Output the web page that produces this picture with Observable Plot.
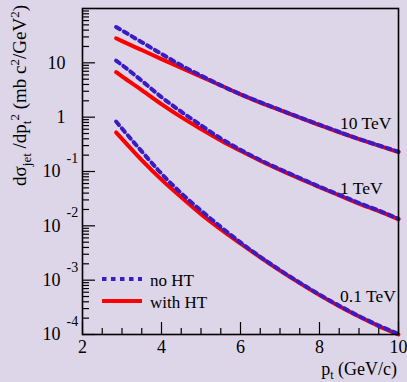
<!DOCTYPE html>
<html><head><meta charset="utf-8">
<script src="https://cdn.jsdelivr.net/npm/d3@7"></script>
<script src="https://cdn.jsdelivr.net/npm/@observablehq/plot@0.6"></script>
<style>
html,body{margin:0;padding:0;background:#ddd5e8;}
svg{display:block}
svg text, svg tspan { font-family: "Liberation Serif", "Times New Roman", Times, "DejaVu Serif", serif !important; }
</style>
</head><body><div id="chart"></div>
<script>
// p_t values (GeV/c)
const pt = [2.85, 3, 3.5, 4, 4.5, 5, 5.5, 6, 6.5, 7, 7.5, 8, 8.5, 9, 9.5, 10];
// d sigma_jet / dp_t^2 (mb c^2/GeV^2)
const noHT_10TeV   = [45.7, 39.4, 24.0, 14.6, 8.99, 5.82, 3.85, 2.64, 1.89, 1.36, 0.989, 0.727, 0.535, 0.397, 0.302, 0.231];
const withHT_10TeV = [28.3, 25.1, 17.2, 11.7, 8.09, 5.56, 3.83, 2.63, 1.86, 1.35, 0.977, 0.716, 0.527, 0.394, 0.299, 0.228];
const noHT_1TeV    = [11.0, 9.12, 4.68, 2.34, 1.26, 0.708, 0.407, 0.251, 0.162, 0.110, 0.0759, 0.0525, 0.0372, 0.0263, 0.0191, 0.0135];
const withHT_1TeV  = [6.76, 5.62, 3.16, 1.74, 1.00, 0.603, 0.372, 0.240, 0.158, 0.107, 0.0741, 0.0513, 0.0363, 0.0257, 0.0186, 0.0132];
const noHT_01TeV   = [0.832, 0.617, 0.234, 0.0912, 0.0398, 0.0191, 0.00955, 0.00495, 0.00269, 0.00153, 0.000899, 0.000542, 0.000339, 0.000218, 0.000146, 0.000102];
const withHT_01TeV = [0.525, 0.398, 0.162, 0.0708, 0.0335, 0.0164, 0.00861, 0.00473, 0.00263, 0.00150, 0.000881, 0.000531, 0.000331, 0.000214, 0.000143, 0.000100];

const energies = ["10 TeV", "1 TeV", "0.1 TeV"];
const energyLabelX = [8.52, 8.52, 8.52];
const energyLabelY = [0.78, 0.048, 0.0005];

const xMajorTicks = [2, 4, 6, 8, 10];
const xMinorTicks = [2.5, 3, 3.5, 4.5, 5, 5.5, 6.5, 7, 7.5, 8.5, 9, 9.5];
const yMajorTicks = [1e-4, 1e-3, 1e-2, 1e-1, 1, 10];
const yMinorMultipliers = [2, 3, 4, 5, 6, 7, 8, 9];
const yPowerLabels = [{v: 1e-4, exp: "-4"}, {v: 1e-3, exp: "-3"}, {v: 1e-2, exp: "-2"}, {v: 1e-1, exp: "-1"}];
const yPlainLabels = [{v: 1, t: "1"}, {v: 10, t: "10"}];

const legendNames = ["no HT", "with HT"];

const blue = "#3a1cc4", red = "#ff0000";

const rows = [];
const series = [
  [noHT_10TeV, withHT_10TeV], [noHT_1TeV, withHT_1TeV], [noHT_01TeV, withHT_01TeV]
];
series.forEach(([no, wi], k) => {
  pt.forEach((p, i) => {
    rows.push({pt: p, v: no[i], energy: energies[k], kind: "no HT"});
    rows.push({pt: p, v: wi[i], energy: energies[k], kind: "with HT"});
  });
});
const yMinorTicks = [];
for (const m of yMajorTicks) for (const k of yMinorMultipliers) yMinorTicks.push(m * k);
const energyLabels = energies.map((e, i) => ({x: energyLabelX[i], y: energyLabelY[i], t: e}));

const W = 407, H = 382, mL = 82, mR = 9, mT = 8, mB = 48;
const fw = W - mL - mR, fh = H - mT - mB;
const font = "'Liberation Serif', 'Times New Roman', Times, 'DejaVu Serif', serif";

const plot = Plot.plot({
  width: W, height: H,
  marginLeft: mL, marginRight: mR, marginTop: mT, marginBottom: mB,
  style: {background: "#ddd5e8", fontFamily: font, color: "black", overflow: "visible"},
  x: {domain: [2, 10], axis: null},
  y: {type: "log", domain: [1e-4, 100], axis: null},
  marks: [
    Plot.line(rows.filter(d => d.kind === "with HT"), {x: "pt", y: "v", z: "energy", stroke: red, strokeWidth: 4, curve: "monotone-x"}),
    Plot.line(rows.filter(d => d.kind === "no HT"), {x: "pt", y: "v", z: "energy", stroke: blue, strokeWidth: 4, strokeDasharray: "4.5,4.5", curve: "monotone-x"}),
    Plot.ruleX(xMajorTicks, {x: d => d, insetTop: fh - 12, stroke: "black", strokeWidth: 1.2}),
    Plot.ruleX(xMinorTicks, {x: d => d, insetTop: fh - 6, stroke: "black", strokeWidth: 1.2}),
    Plot.ruleY(yMajorTicks, {y: d => d, insetRight: fw - 13, stroke: "black", strokeWidth: 1.2}),
    Plot.ruleY(yMinorTicks, {y: d => d, insetRight: fw - 7, stroke: "black", strokeWidth: 1.2}),
    Plot.frame({stroke: "black", strokeWidth: 1.6}),
    Plot.text(xMajorTicks, {x: d => d, text: d => String(d), frameAnchor: "bottom", dy: 18, fontSize: 18, fontFamily: font, fill: "black"}),
    Plot.text(yPowerLabels, {y: "v", text: () => "10", frameAnchor: "left", dx: -22, textAnchor: "end", fontSize: 18, fontFamily: font, fill: "black"}),
    Plot.text(yPowerLabels, {y: "v", text: "exp", frameAnchor: "left", dx: -16, dy: -13, textAnchor: "start", fontSize: 14, fontFamily: font, fill: "black"}),
    Plot.text(yPlainLabels, {y: "v", text: "t", frameAnchor: "left", dx: -17, textAnchor: "end", fontSize: 18, fontFamily: font, fill: "black"}),
    Plot.text(energyLabels, {x: "x", y: "y", text: "t", textAnchor: "start", fontSize: 17.5, fontFamily: font, fill: "black"})
  ]
});

const svg = d3.select(plot);
// y title
const yt = svg.append("text")
  .attr("transform", "translate(26,5) rotate(-90)")
  .attr("text-anchor", "end").attr("font-family", font).attr("font-size", 19).attr("fill", "black");
yt.append("tspan").text("dσ");
yt.append("tspan").attr("font-size", 13).attr("dy", 5).text("jet");
yt.append("tspan").attr("dy", -5).text(" /dp");
yt.append("tspan").attr("font-size", 13).attr("dy", 5).text("t");
yt.append("tspan").attr("font-size", 13).attr("dy", -12).text("2");
yt.append("tspan").attr("dy", 7).text(" (mb c");
yt.append("tspan").attr("font-size", 13).attr("dy", -7).text("2");
yt.append("tspan").attr("dy", 7).text("/GeV");
yt.append("tspan").attr("font-size", 13).attr("dy", -7).text("2");
yt.append("tspan").attr("dy", 7).text(")");
// x title
const xt = svg.append("text")
  .attr("x", 397).attr("y", 375)
  .attr("text-anchor", "end").attr("font-family", font).attr("font-size", 18).attr("fill", "black");
xt.append("tspan").text("p");
xt.append("tspan").attr("font-size", 12).attr("dy", 4).text("t");
xt.append("tspan").attr("dy", -4).text(" (GeV/c)");
// legend
const leg = svg.append("g");
const legY = [279, 301];
legendNames.forEach((name, i) => {
  leg.append("line").attr("x1", 102).attr("x2", 142).attr("y1", legY[i]).attr("y2", legY[i])
    .attr("stroke", i === 0 ? blue : red).attr("stroke-width", 4)
    .attr("stroke-dasharray", i === 0 ? "4.5,4.5" : null);
  leg.append("text").attr("x", 150).attr("y", legY[i] + 3).attr("text-anchor", "start")
    .attr("dominant-baseline", "middle").attr("font-family", font)
    .attr("font-size", 17).attr("fill", "black").text(name);
});

document.getElementById("chart").appendChild(plot);
</script></body></html>
